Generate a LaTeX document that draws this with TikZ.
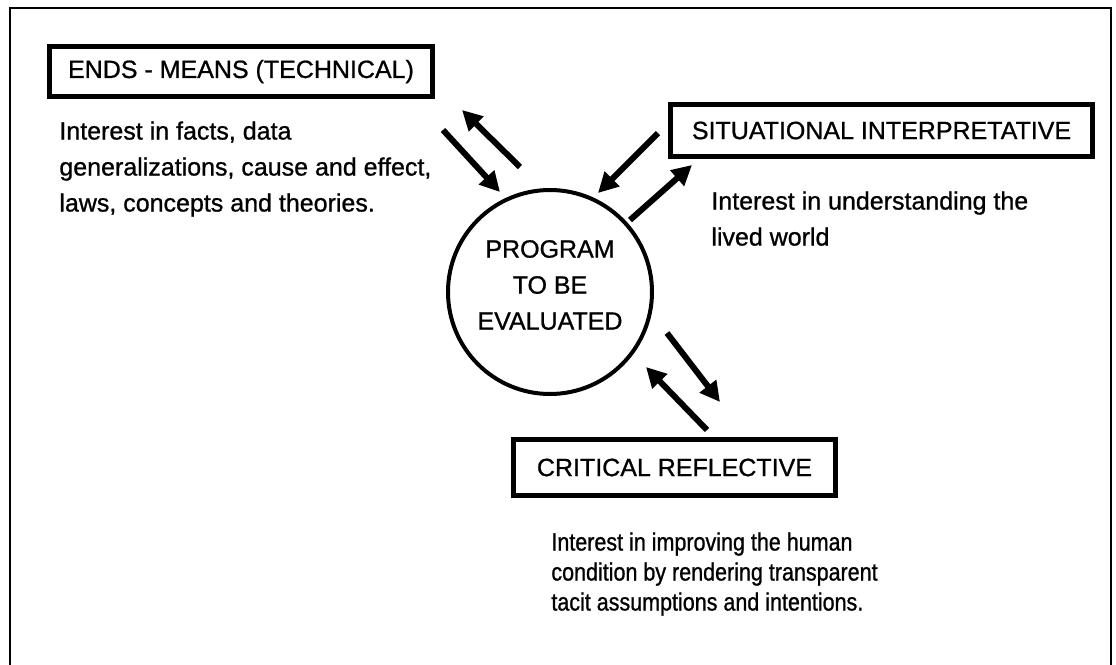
\documentclass[tikz,border=0pt]{standalone}
\usepackage{fontspec}
\setmainfont{Liberation Sans}[FakeBold=0.9]
\newfontfamily\narrowsans[FakeStretch=0.86,FakeBold=0.9]{Liberation Sans}
\usetikzlibrary{arrows.meta}

\begin{document}
\begin{tikzpicture}[x=0.5pt,y=-0.5pt]

        \useasboundingbox (0,0) rectangle (1116,665);
        % open frame, runs off the bottom of the page
        \draw[line width=1.3pt] (10,690) -- (10,8) -- (1111,8) -- (1111,690);

        \begin{scope}[every node/.style={draw, line width=2.5pt, inner sep=0pt,
            font=\fontsize{12.5}{18}\selectfont}]
          \node[minimum width=191.5pt, minimum height=25pt] (1) at (241,71.5)  {ENDS - MEANS (TECHNICAL)};
          \node[minimum width=211pt,   minimum height=26pt] (2) at (881.5,130.5) {SITUATIONAL INTERPRETATIVE};
          \node[minimum width=161pt,   minimum height=28pt] (3) at (674.5,467.5) {CRITICAL REFLECTIVE};
          \node[circle, line width=2pt, minimum size=102pt] (4) at (550,292) {};
        \end{scope}

        \begin{scope}[every node/.style={anchor=north west, inner sep=0pt, align=left,
            font=\fontsize{12.5}{18}\selectfont}]
          \node (1t) at (59,121)  {Interest in facts, data\\generalizations, cause and effect,\\laws, concepts and theories.};
          \node (2t) at (711,191) {Interest in understanding the\\lived world};
          \node[font=\narrowsans\fontsize{12.5}{15}\selectfont] (3t) at (551,532)
            {Interest in improving the human\\condition by rendering transparent\\tacit assumptions and intentions.};
          \node[anchor=center, align=center] (4t) at (550,285) {PROGRAM\\TO BE\\EVALUATED};
        \end{scope}

        % arrow ends, in pairs going each way
        \coordinate (a1) at (443,130); \coordinate (b1) at (500,192);
        \coordinate (a2) at (520,167); \coordinate (b2) at (462,110);
        \coordinate (a3) at (658,133); \coordinate (b3) at (598,193);
        \coordinate (a4) at (630,220); \coordinate (b4) at (692,165);
        \coordinate (a5) at (667,333); \coordinate (b5) at (720,402);
        \coordinate (a6) at (707,430); \coordinate (b6) at (646,367);

        \begin{scope}[every edge/.style={draw, line width=3pt, -{Triangle[length=10pt,width=10pt]}}]
          \path (a1) edge (b1);
          \path (a2) edge (b2);
          \path (a3) edge (b3);
          \path (a4) edge (b4);
          \path (a5) edge (b5);
          \path (a6) edge (b6);
        \end{scope}

      \end{tikzpicture}
\end{document}
